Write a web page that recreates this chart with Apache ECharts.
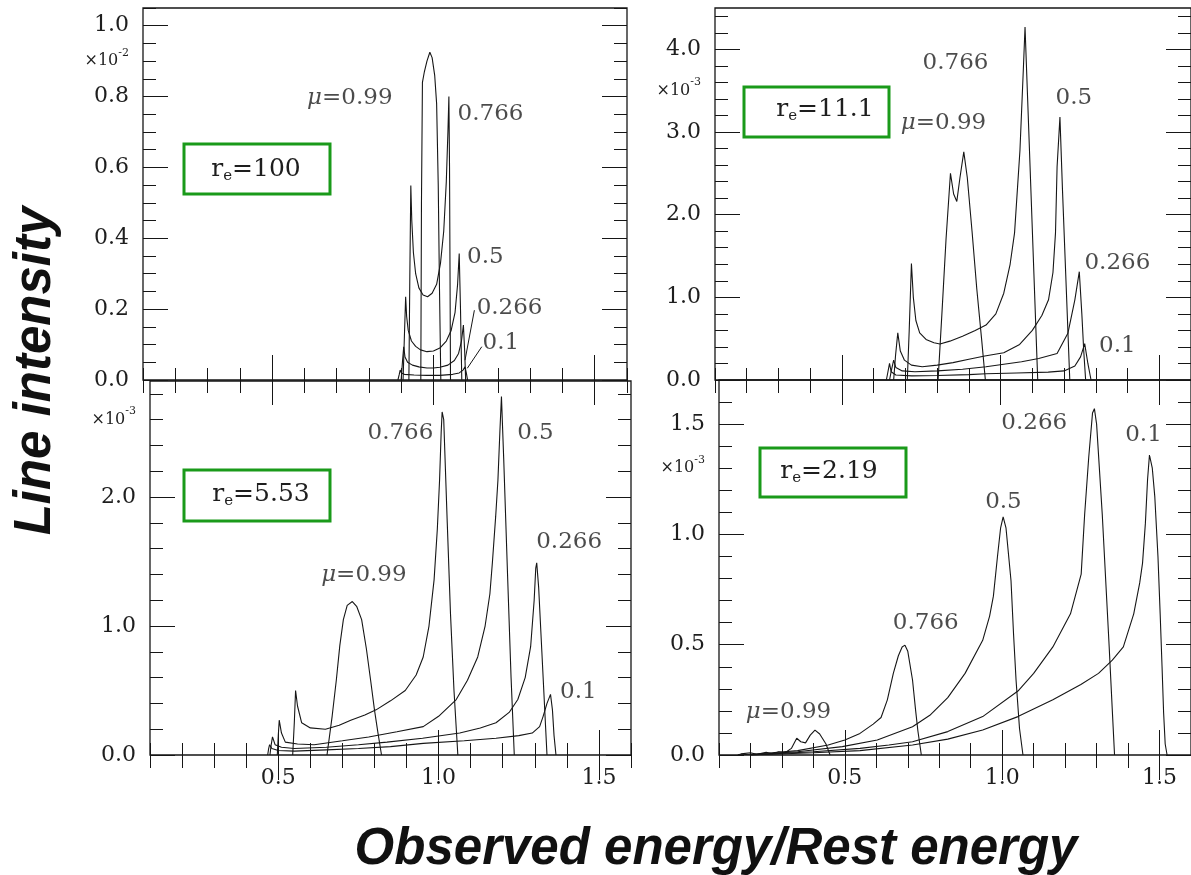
<!DOCTYPE html>
<html>
<head>
<meta charset="utf-8">
<script src="https://cdn.jsdelivr.net/npm/echarts@6/dist/echarts.min.js"></script>
<style>
  html, body { margin: 0; padding: 0; background: #fff; }
  #chart { width: 1191px; height: 875px; }
</style>
</head>
<body>
<div id="chart"></div>
<script>
// ---- shared energy axis (observed / rest energy) ----
const X_MIN = 0.1, X_MAX = 1.6;
const xMajorTicks = [0.5, 1.0, 1.5];
const xTickLabels = [0.5, 1.0, 1.5];
const xMinorStep = 0.1;

// ---- r_e = 100, intensity in units of 1e-2 ----
const yMajor_re100 = [0, 0.2, 0.4, 0.6, 0.8, 1.0];
const re100_mu099 = [[0.961,0],[0.963,0.5],[0.966,0.84],[0.972,0.87],[0.980,0.90],[0.989,0.925],[0.996,0.91],[1.004,0.86],[1.010,0.78],[1.015,0.55],[1.019,0.25],[1.023,0]];
const re100_mu0766 = [[0.924,0],[0.927,0.3],[0.930,0.549],[0.933,0.45],[0.938,0.36],[0.945,0.30],[0.955,0.26],[0.968,0.24],[0.982,0.235],[0.996,0.245],[1.010,0.27],[1.022,0.33],[1.032,0.42],[1.040,0.56],[1.045,0.70],[1.048,0.80],[1.050,0.6],[1.053,0]];
const re100_mu05 = [[0.906,0],[0.910,0.12],[0.914,0.235],[0.917,0.18],[0.922,0.14],[0.932,0.11],[0.945,0.095],[0.960,0.085],[0.980,0.08],[1.000,0.082],[1.020,0.09],[1.040,0.11],[1.055,0.14],[1.067,0.19],[1.075,0.27],[1.080,0.357],[1.084,0.2],[1.088,0]];
const re100_mu0266 = [[0.900,0],[0.904,0.05],[0.908,0.094],[0.912,0.065],[0.920,0.05],[0.935,0.042],[0.955,0.037],[0.980,0.034],[1.000,0.034],[1.020,0.036],[1.045,0.042],[1.065,0.055],[1.078,0.075],[1.087,0.11],[1.093,0.155],[1.097,0.08],[1.100,0]];
const re100_mu01 = [[0.890,0],[0.894,0.015],[0.897,0.028],[0.901,0.02],[0.910,0.016],[0.940,0.014],[0.980,0.013],[1.020,0.013],[1.060,0.016],[1.080,0.02],[1.092,0.028],[1.098,0.037],[1.102,0.02],[1.106,0]];

// ---- r_e = 11.1, intensity in units of 1e-3 ----
const yMajor_re11 = [0, 1, 2, 3, 4];
const re11_mu099 = [[0.803,0],[0.815,0.8],[0.828,1.7],[0.842,2.50],[0.852,2.25],[0.862,2.16],[0.872,2.45],[0.884,2.76],[0.895,2.45],[0.910,1.8],[0.925,1.1],[0.940,0.5],[0.952,0]];
const re11_mu0766 = [[0.706,0],[0.712,0.6],[0.719,1.41],[0.725,1.0],[0.733,0.72],[0.745,0.57],[0.765,0.49],[0.790,0.45],[0.809,0.435],[0.840,0.47],[0.880,0.53],[0.920,0.60],[0.954,0.665],[0.985,0.80],[1.010,1.05],[1.030,1.40],[1.044,1.78],[1.061,2.78],[1.072,3.79],[1.077,4.27],[1.085,3.42],[1.095,2.35],[1.105,1.28],[1.117,0]];
const re11_mu05 = [[0.663,0],[0.669,0.3],[0.676,0.57],[0.684,0.35],[0.697,0.24],[0.719,0.18],[0.753,0.16],[0.800,0.18],[0.850,0.21],[0.900,0.25],[0.950,0.29],[1.010,0.33],[1.060,0.43],[1.100,0.60],[1.130,0.78],[1.151,0.97],[1.165,1.3],[1.173,1.78],[1.178,2.58],[1.187,3.18],[1.195,2.3],[1.205,1.3],[1.218,0]];
const re11_mu0266 = [[0.650,0],[0.656,0.12],[0.663,0.24],[0.670,0.15],[0.690,0.11],[0.730,0.10],[0.800,0.11],[0.880,0.13],[0.954,0.16],[1.010,0.19],[1.066,0.22],[1.120,0.26],[1.178,0.32],[1.212,0.565],[1.234,0.97],[1.248,1.31],[1.256,0.8],[1.262,0.35],[1.268,0]];
const re11_mu01 = [[0.640,0],[0.645,0.1],[0.650,0.2],[0.655,0.1],[0.670,0.06],[0.720,0.05],[0.800,0.055],[0.900,0.065],[0.954,0.075],[1.050,0.085],[1.150,0.095],[1.200,0.11],[1.234,0.17],[1.252,0.28],[1.265,0.44],[1.275,0.2],[1.285,0]];

// ---- r_e = 5.53, intensity in units of 1e-3 ----
const yMajor_re553 = [0, 1, 2];
const re553_mu099 = [[0.652,0],[0.668,0.3],[0.681,0.58],[0.692,0.85],[0.703,1.05],[0.715,1.16],[0.731,1.19],[0.745,1.15],[0.760,1.05],[0.775,0.82],[0.788,0.58],[0.800,0.35],[0.811,0.17],[0.822,0]];
const re553_mu0766 = [[0.545,0],[0.550,0.25],[0.554,0.50],[0.560,0.38],[0.573,0.25],[0.600,0.21],[0.647,0.20],[0.690,0.23],[0.726,0.27],[0.770,0.31],[0.805,0.35],[0.850,0.42],[0.896,0.50],[0.930,0.62],[0.952,0.76],[0.970,1.0],[0.986,1.36],[0.996,1.75],[1.003,2.13],[1.008,2.5],[1.011,2.66],[1.016,2.6],[1.027,1.8],[1.037,1.10],[1.048,0.5],[1.060,0]];
const re553_mu05 = [[0.497,0],[0.500,0.15],[0.503,0.27],[0.510,0.17],[0.522,0.10],[0.560,0.085],[0.612,0.08],[0.700,0.11],[0.782,0.14],[0.870,0.18],[0.952,0.22],[1.000,0.30],[1.055,0.43],[1.090,0.58],[1.122,0.76],[1.145,1.0],[1.160,1.25],[1.168,1.50],[1.178,1.85],[1.185,2.13],[1.191,2.5],[1.196,2.78],[1.203,2.3],[1.215,1.4],[1.226,0.6],[1.236,0]];
const re553_mu0266 = [[0.474,0],[0.478,0.08],[0.482,0.14],[0.490,0.08],[0.510,0.06],[0.550,0.05],[0.650,0.06],[0.750,0.08],[0.839,0.10],[0.950,0.13],[1.066,0.17],[1.130,0.21],[1.179,0.25],[1.220,0.33],[1.247,0.43],[1.270,0.6],[1.287,0.84],[1.298,1.2],[1.303,1.45],[1.306,1.49],[1.312,1.3],[1.322,0.8],[1.330,0.4],[1.338,0]];
const re553_mu01 = [[0.467,0],[0.470,0.05],[0.473,0.08],[0.480,0.05],[0.500,0.035],[0.550,0.03],[0.650,0.04],[0.750,0.05],[0.850,0.065],[0.952,0.09],[1.080,0.11],[1.179,0.13],[1.250,0.15],[1.292,0.17],[1.315,0.22],[1.326,0.30],[1.338,0.40],[1.349,0.47],[1.355,0.35],[1.360,0.15],[1.366,0]];

// ---- r_e = 2.19, intensity in units of 1e-3 ----
const yMajor_re219 = [0, 0.5, 1.0, 1.5];
const re219_mu099 = [[0.160,0],[0.170,0.005],[0.200,0.01],[0.220,0.003],[0.250,0.012],[0.270,0.006],[0.290,0.015],[0.310,0.01],[0.330,0.03],[0.347,0.076],[0.360,0.06],[0.375,0.055],[0.390,0.09],[0.405,0.113],[0.420,0.095],[0.440,0.05],[0.453,0]];
const re219_mu0766 = [[0.160,0],[0.250,0.008],[0.350,0.02],[0.447,0.045],[0.500,0.068],[0.548,0.098],[0.590,0.14],[0.615,0.17],[0.635,0.25],[0.654,0.37],[0.670,0.45],[0.682,0.49],[0.691,0.498],[0.700,0.47],[0.715,0.34],[0.725,0.2],[0.732,0.11],[0.743,0]];
const re219_mu05 = [[0.200,0],[0.350,0.015],[0.492,0.038],[0.603,0.068],[0.715,0.128],[0.770,0.18],[0.827,0.26],[0.882,0.37],[0.938,0.52],[0.960,0.63],[0.972,0.72],[0.985,0.9],[0.995,1.03],[1.003,1.08],[1.012,1.03],[1.028,0.79],[1.036,0.55],[1.044,0.34],[1.055,0.12],[1.066,0]];
const re219_mu0266 = [[0.200,0],[0.400,0.015],[0.548,0.03],[0.640,0.045],[0.715,0.06],[0.827,0.106],[0.938,0.174],[1.050,0.29],[1.100,0.37],[1.161,0.49],[1.217,0.64],[1.251,0.82],[1.262,1.09],[1.275,1.35],[1.287,1.55],[1.293,1.57],[1.300,1.5],[1.318,1.09],[1.340,0.49],[1.350,0.2],[1.357,0]];
const re219_mu01 = [[0.200,0],[0.400,0.01],[0.548,0.02],[0.715,0.045],[0.827,0.072],[0.938,0.113],[1.050,0.174],[1.161,0.25],[1.250,0.32],[1.306,0.37],[1.350,0.43],[1.385,0.49],[1.418,0.64],[1.437,0.78],[1.446,0.87],[1.455,1.05],[1.462,1.25],[1.468,1.36],[1.477,1.30],[1.485,1.17],[1.495,0.9],[1.502,0.64],[1.508,0.4],[1.513,0.19],[1.518,0.05],[1.524,0]];

// curve annotations: [x, y, text] in data units of each panel
const notes_re100 = [[0.741,0.797,'{mu|μ}=0.99'],[1.177,0.752,'0.766'],[1.161,0.346,'0.5'],[1.236,0.203,'0.266'],[1.209,0.104,'0.1']];
const leaders_re100 = [[[1.127,0.197],[1.098,0.056]], [[1.150,0.094],[1.105,0.033]]];
const notes_re11 = [[0.858,3.83,'0.766'],[1.231,3.41,'0.5'],[0.820,3.11,'{mu|μ}=0.99'],[1.368,1.415,'0.266'],[1.368,0.41,'0.1']];
const notes_re553 = [[0.881,2.50,'0.766'],[1.302,2.50,'0.5'],[1.407,1.65,'0.266'],[0.767,1.395,'{mu|μ}=0.99'],[1.436,0.488,'0.1']];
const notes_re219 = [[1.102,1.504,'0.266'],[1.449,1.45,'0.1'],[1.004,1.146,'0.5'],[0.757,0.598,'0.766'],[0.321,0.195,'{mu|μ}=0.99']];

// ---- layout of the four panels ----
const panels = [
  { re: '100',  grid: {left: 143, top: 8,   width: 484, height: 372}, yMax: 1.05, yMajor: yMajor_re100, yStep: 0.05, exp: '-2', expAt: 0.9,
    showX: false, curves: [re100_mu099, re100_mu0766, re100_mu05, re100_mu0266, re100_mu01], notes: notes_re100, leaders: leaders_re100,
    box: {x: 184, y: 144, w: 146, h: 50}, boxText: [256, 169] },
  { re: '11.1', grid: {left: 715, top: 8,   width: 479, height: 372}, yMax: 4.5, yMajor: yMajor_re11, yStep: 0.2, exp: '-3', expAt: 3.5,
    showX: false, curves: [re11_mu099, re11_mu0766, re11_mu05, re11_mu0266, re11_mu01], notes: notes_re11, leaders: [],
    box: {x: 744, y: 87, w: 145, h: 50}, boxText: [825, 109] },
  { re: '5.53', grid: {left: 150, top: 381, width: 481, height: 374}, yMax: 2.9, yMajor: yMajor_re553, yStep: 0.2, exp: '-3', expAt: 2.6,
    showX: true, curves: [re553_mu099, re553_mu0766, re553_mu05, re553_mu0266, re553_mu01], notes: notes_re553, leaders: [],
    box: {x: 184, y: 470, w: 146, h: 51}, boxText: [261, 494] },
  { re: '2.19', grid: {left: 719, top: 380, width: 481, height: 375}, yMax: 1.7, yMajor: yMajor_re219, yStep: 0.1, exp: '-3', expAt: 1.3,
    showX: true, curves: [re219_mu099, re219_mu0766, re219_mu05, re219_mu0266, re219_mu01], notes: notes_re219, leaders: [],
    box: {x: 760, y: 448, w: 146, h: 49}, boxText: [829, 471] }
];

const INK = '#161616';
const TXT = '#1e1e1e';
const SERIF = '"DejaVu Serif", "Liberation Serif", serif';
const MINOR = 13, MAJOR = 25;

function stepTicks(from, to, step) {
  const out = [];
  const n = Math.round((to - from) / step);
  for (let i = 0; i <= n; i++) out.push(+(from + i * step).toFixed(4));
  return out;
}
const xMinorTicks = stepTicks(X_MIN, X_MAX, xMinorStep);

function tickAxis(gi, position, range, ticks, len) {
  return {
    type: 'value', gridIndex: gi, position: position, min: range[0], max: range[1],
    axisLine: { show: false }, splitLine: { show: false }, axisLabel: { show: false },
    axisTick: { show: true, inside: true, length: len, customValues: ticks, lineStyle: { color: INK, width: 1 } }
  };
}

const grids = [], xAxes = [], yAxes = [], series = [], graphics = [];

panels.forEach((p, gi) => {
  grids.push(Object.assign({ show: true, borderColor: INK, borderWidth: 1.3, backgroundColor: 'transparent' }, p.grid));
  const xr = [X_MIN, X_MAX], yr = [0, p.yMax];
  const yMinor = stepTicks(0, p.yMax, p.yStep);

  // bottom axis carries the data and the energy labels
  const xb = tickAxis(gi, 'bottom', xr, xMinorTicks, MINOR - 1);
  xb.axisLabel = {
    show: p.showX, customValues: xTickLabels, margin: 12,
    formatter: v => v.toFixed(1), fontFamily: SERIF, fontSize: 22, color: TXT
  };
  xAxes.push(xb,
             tickAxis(gi, 'bottom', xr, xMajorTicks, MAJOR),
             tickAxis(gi, 'top', xr, xMinorTicks, MINOR),
             tickAxis(gi, 'top', xr, xMajorTicks, MAJOR));

  const yl = tickAxis(gi, 'left', yr, yMinor, MINOR);
  yl.axisLabel = {
    show: true, customValues: p.yMajor.concat([p.expAt]), margin: 14,
    formatter: v => Math.abs(v - p.expAt) < 1e-9 ? '{m|×10}{s|' + p.exp + '}' : v.toFixed(1),
    fontFamily: SERIF, fontSize: 22, color: TXT,
    rich: {
      m: { fontFamily: SERIF, fontSize: 16, lineHeight: 28, color: TXT },
      s: { fontFamily: SERIF, fontSize: 11, lineHeight: 11, verticalAlign: 'top', color: TXT }
    }
  };
  yAxes.push(yl,
             tickAxis(gi, 'left', yr, p.yMajor, MAJOR),
             tickAxis(gi, 'right', yr, yMinor, MINOR),
             tickAxis(gi, 'right', yr, p.yMajor, MAJOR));

  const xi = gi * 4, yi = gi * 4;
  p.curves.forEach(c => {
    series.push({
      type: 'line', xAxisIndex: xi, yAxisIndex: yi, data: c,
      symbol: 'none', smooth: false, silent: true,
      lineStyle: { color: INK, width: 1.1 }, z: 3
    });
  });

  series.push({
    type: 'scatter', xAxisIndex: xi, yAxisIndex: yi, data: p.notes,
    symbolSize: 1, itemStyle: { color: 'rgba(0,0,0,0)' }, silent: true, z: 5,
    label: {
      show: true, position: 'inside', formatter: prm => prm.data[2],
      fontFamily: SERIF, fontSize: 23, color: TXT,
      rich: { mu: { fontFamily: SERIF, fontSize: 23, fontStyle: 'italic', color: TXT } }
    },
    markLine: {
      silent: true, symbol: ['none', 'none'], label: { show: false },
      lineStyle: { color: INK, width: 1, type: 'solid' },
      data: p.leaders.map(l => [{ coord: l[0] }, { coord: l[1] }])
    }
  });

  // r_e boxes
  graphics.push({
    type: 'rect', shape: { x: p.box.x, y: p.box.y, width: p.box.w, height: p.box.h },
    style: { fill: 'none', stroke: '#1a9a1a', lineWidth: 3 }, z: 10
  });
  graphics.push({
    type: 'text', x: p.boxText[0], y: p.boxText[1], z: 10,
    style: {
      text: '{r|r}{e|e}{t|=' + p.re + '}', align: 'center', verticalAlign: 'middle',
      rich: {
        r: { fontFamily: SERIF, fontSize: 25, lineHeight: 30, fill: TXT },
        e: { fontFamily: SERIF, fontSize: 15, lineHeight: 15, verticalAlign: 'bottom', fill: TXT },
        t: { fontFamily: SERIF, fontSize: 25, lineHeight: 30, fill: TXT }
      }
    }
  });
});

// axis titles
graphics.push({
  type: 'text', x: 36, y: 371, rotation: Math.PI / 2, z: 10,
  style: {
    text: 'Line intensity', align: 'center', verticalAlign: 'middle',
    font: 'italic bold 51px "Liberation Sans", Arial, sans-serif', fill: '#111',
    shadowColor: 'rgba(0,0,0,0.25)', shadowBlur: 3, shadowOffsetX: 1, shadowOffsetY: 1
  }
});
graphics.push({
  type: 'text', x: 716, y: 850, z: 10,
  style: {
    text: 'Observed energy/Rest energy', align: 'center', verticalAlign: 'middle',
    font: 'italic bold 51px "Liberation Sans", Arial, sans-serif', fill: '#111',
    shadowColor: 'rgba(0,0,0,0.25)', shadowBlur: 3, shadowOffsetX: 1, shadowOffsetY: 1
  }
});

const chart = echarts.init(document.getElementById('chart'), null, { renderer: 'canvas' });
chart.setOption({
  backgroundColor: '#ffffff',
  animation: false,
  grid: grids,
  xAxis: xAxes,
  yAxis: yAxes,
  series: series,
  graphic: graphics
});
</script>
</body>
</html>
